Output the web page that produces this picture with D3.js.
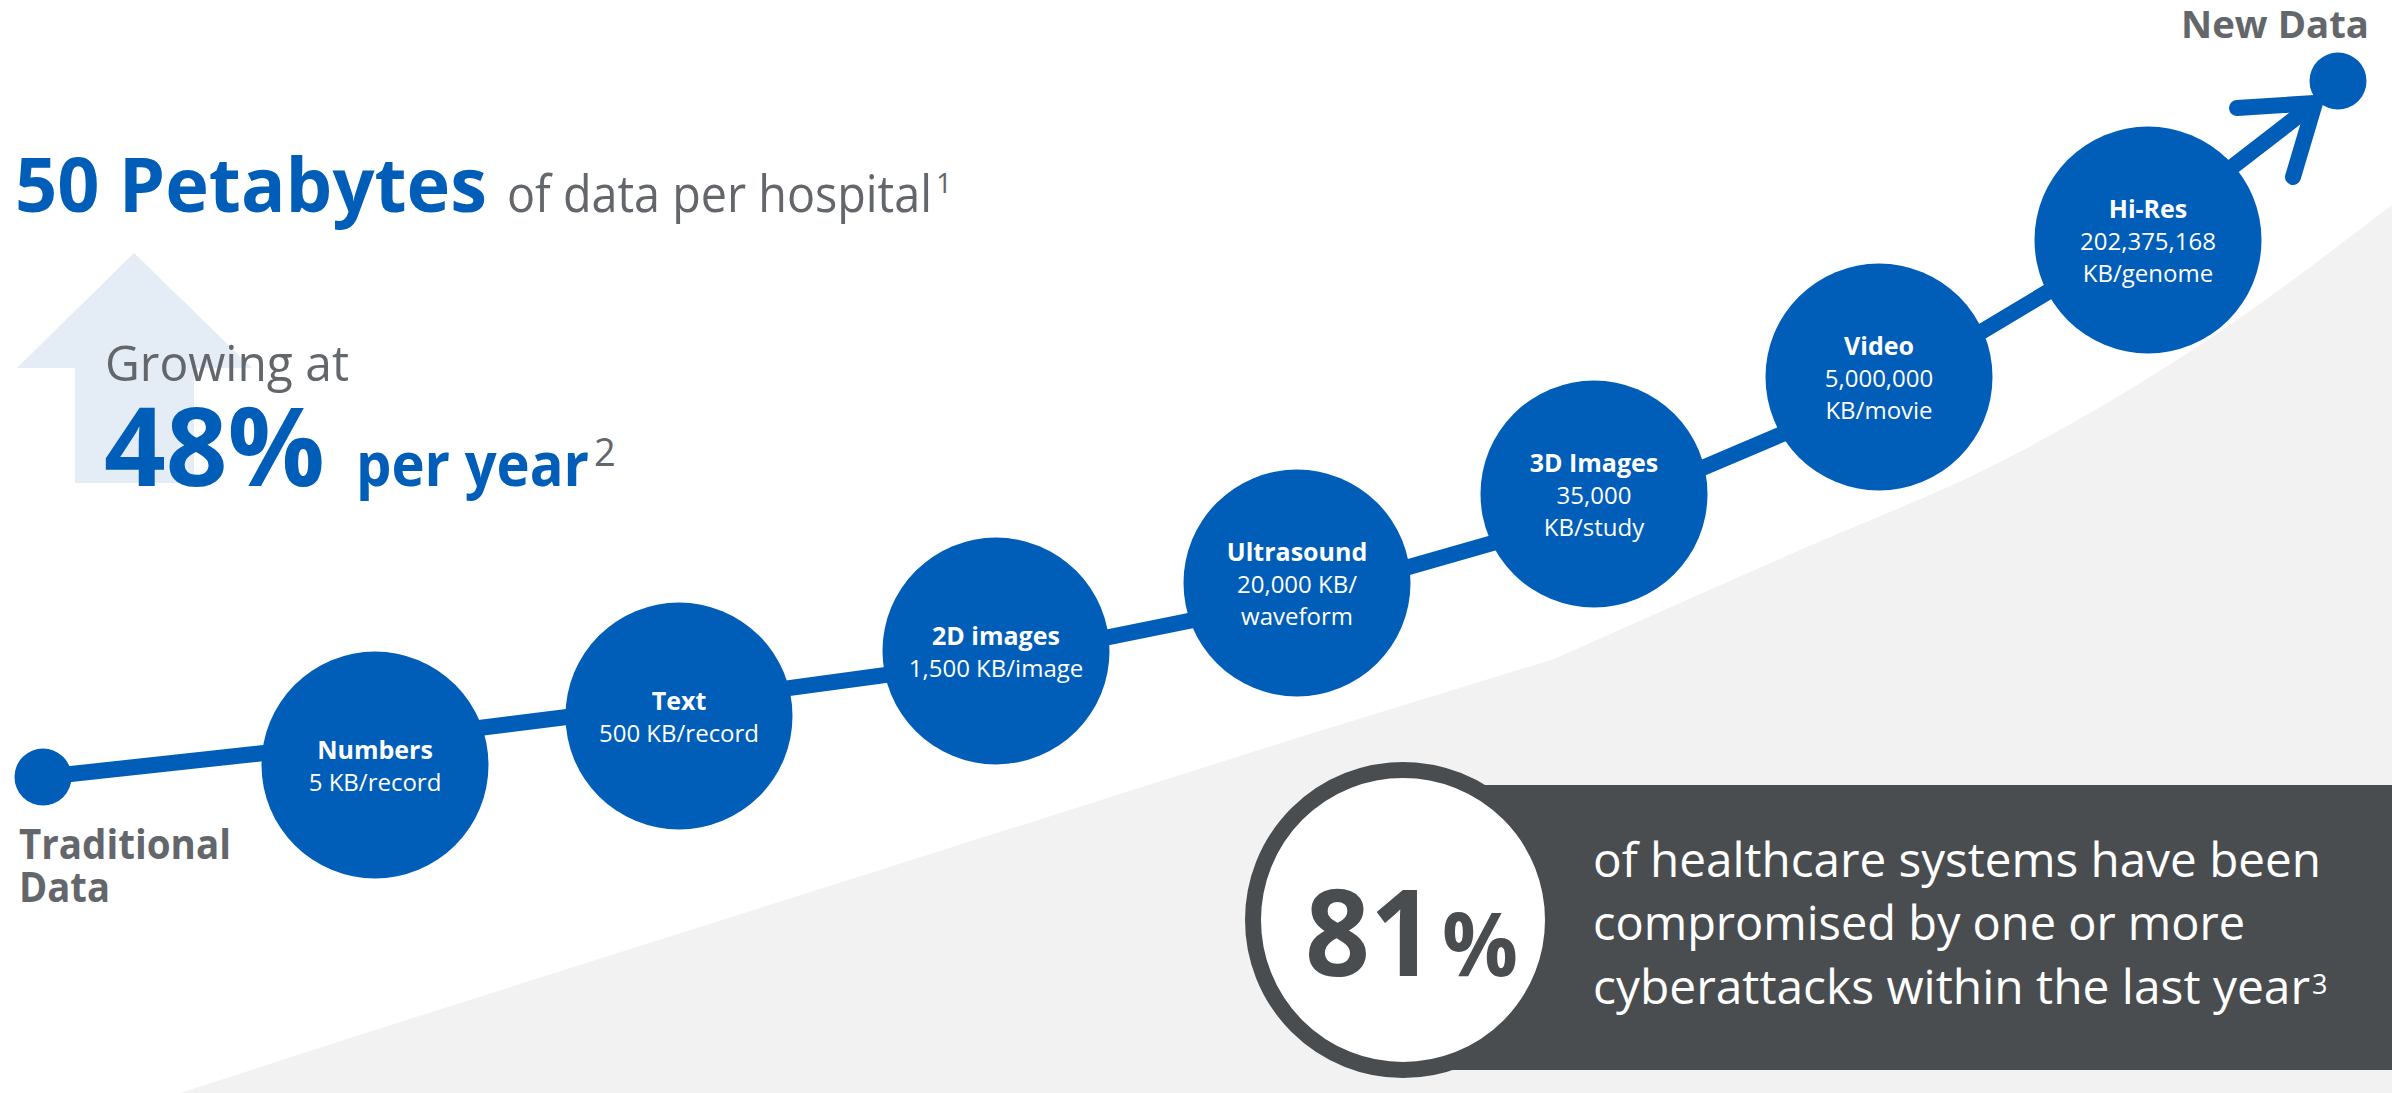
<!DOCTYPE html>
<html lang="en">
  <head>
    <meta charset="UTF-8"/>
    <title>Healthcare data growth</title>
    <script src="https://d3js.org/d3.v7.min.js"></script>
    <style>
      body { margin: 0; background: #fff; }
      text { font-family: 'Open Sans', sans-serif; }
      .blue { fill: #005eb8; }
      .grey { fill: #63666a; }
    </style>
  </head>
  <body>
    <script type="text/javascript">

      // data
      const stageNames = ["Numbers", "Text", "2D images", "Ultrasound", "3D Images", "Video", "Hi-Res"]
      const stageSizes = [
        ["5 KB/record"],
        ["500 KB/record"],
        ["1,500 KB/image"],
        ["20,000 KB/", "waveform"],
        ["35,000", "KB/study"],
        ["5,000,000", "KB/movie"],
        ["202,375,168", "KB/genome"]
      ]
      const headline = ["50 Petabytes", "of data per hospital", "1"]
      const growth = ["Growing at", "48%", "per year", "2"]
      const endLabels = [["Traditional", "Data"], ["New Data"]]
      const breachPct = ["81", "%"]
      const breachText = ["of healthcare systems have been", "compromised by one or more", "cyberattacks within the last year"]
      const breachNote = "3"

      // layout (reference units, 2392 x 1093)
      const nodeX = [375, 679, 996, 1297, 1594, 1879, 2148]
      const nodeY = [765, 716, 651, 583, 494, 377, 240]
      const spineY = [741, 703, 660, 599, 514, 393, 232]
      const startPt = [43, 777], tipPt = [2315, 103], endDot = [2338, 81]

      const outerWidth = 2392, outerHeight = 1093

      const svg = d3.select("body").append("svg")
          .attr("width", outerWidth)
          .attr("height", outerHeight)

      const x = d3.scaleLinear().domain([0, 2392]).range([0, outerWidth])
      const y = d3.scaleLinear().domain([0, 1093]).range([0, outerHeight])

      const blue = "#005eb8", grey = "#63666a", dark = "#4a4d50"

      const fit = (sel, w) => sel.attr("textLength", x(w) - x(0)).attr("lengthAdjust", "spacingAndGlyphs")

      // grey wedge in the background
      const wedgeTop = [[180, 1093], [400, 1022], [1300, 737], [1554, 659]]
      const wedgeCurve = [[1554, 659], [1800, 550], [2000, 462], [2200, 345], [2392, 205]]
      const straight = d3.line().x(d => x(d[0])).y(d => y(d[1]))
      const smooth = d3.line().x(d => x(d[0])).y(d => y(d[1])).curve(d3.curveMonotoneX)
      svg.append("path")
          .attr("d", straight(wedgeTop) + smooth(wedgeCurve).replace(/^M[^CL]*/, "L" + x(1554) + "," + y(659)) +
                "L" + x(2392) + "," + y(1093) + "Z")
          .attr("fill", "#f2f2f2")

      // light up-arrow behind the growth figure
      const upArrow = [[134, 253], [252, 368], [194, 368], [194, 483], [75, 483], [75, 368], [17, 368]]
      svg.append("path")
          .attr("d", straight(upArrow) + "Z")
          .attr("fill", "#e4ecf6")

      // headline
      fit(svg.append("text").attr("class", "blue").attr("x", x(15)).attr("y", y(211.5))
          .attr("font-size", 76).attr("font-weight", 700).text(headline[0]), 472)
      fit(svg.append("text").attr("class", "grey").attr("x", x(507)).attr("y", y(211.5))
          .attr("font-size", 52).text(headline[1]), 425)
      svg.append("text").attr("class", "grey").attr("x", x(936)).attr("y", y(193))
          .attr("font-size", 28).text(headline[2])

      // growth rate
      fit(svg.append("text").attr("class", "grey").attr("x", x(105)).attr("y", y(380.6))
          .attr("font-size", 49).text(growth[0]), 244)
      fit(svg.append("text").attr("class", "blue").attr("x", x(104)).attr("y", y(486))
          .attr("font-size", 110).attr("font-weight", 700).text(growth[1]), 221)
      fit(svg.append("text").attr("class", "blue").attr("x", x(356)).attr("y", y(486))
          .attr("font-size", 60).attr("font-weight", 700).text(growth[2]), 233)
      svg.append("text").attr("class", "grey").attr("x", x(594)).attr("y", y(466))
          .attr("font-size", 38).text(growth[3])

      // spine line and arrow
      const spine = [startPt].concat(nodeX.map((d, i) => [d, spineY[i]])).concat([tipPt])
      svg.append("path")
          .attr("d", straight(spine))
          .attr("fill", "none")
          .attr("stroke", blue)
          .attr("stroke-width", 16)

      svg.append("path")
          .attr("d", straight([[2237, 108], tipPt, [2293, 177]]))
          .attr("fill", "none")
          .attr("stroke", blue)
          .attr("stroke-width", 16)
          .attr("stroke-linecap", "round")
          .attr("stroke-linejoin", "miter")

      svg.selectAll(".end-dot")
        .data([startPt, endDot])
        .join("circle")
          .attr("class", "end-dot")
          .attr("cx", d => x(d[0]))
          .attr("cy", d => y(d[1]))
          .attr("r", 28.5)
          .attr("fill", blue)

      // end labels
      endLabels[0].forEach((t, i) => {
        fit(svg.append("text").attr("class", "grey").attr("x", x(19)).attr("y", y(859.3 + i * 42.4))
            .attr("font-size", 41).attr("font-weight", 700).text(t), i === 0 ? 212 : 91)
      })
      fit(svg.append("text").attr("class", "grey").attr("x", x(2181)).attr("y", y(37.5))
          .attr("font-size", 37).attr("font-weight", 700).text(endLabels[1][0]), 188)

      // stage circles
      const stages = stageNames.map((name, i) => ({name, sizes: stageSizes[i], cx: nodeX[i], cy: nodeY[i]}))

      const node = svg.selectAll(".stage")
        .data(stages)
        .join("g")
          .attr("class", "stage")
          .attr("transform", d => `translate(${x(d.cx)},${y(d.cy)})`)

      node.append("circle")
          .attr("r", 113.5)
          .attr("fill", blue)

      node.each(function(d) {
        const lines = [d.name].concat(d.sizes)
        const n = lines.length
        d3.select(this).selectAll("text")
          .data(lines)
          .join("text")
            .attr("text-anchor", "middle")
            .attr("y", (t, i) => 10 + (i - (n - 1) / 2) * 32)
            .attr("fill", "#fff")
            .attr("font-size", (t, i) => i === 0 ? 25 : 24)
            .attr("font-weight", (t, i) => i === 0 ? 700 : 400)
            .text(t => t)
      })

      // cyberattack panel
      svg.append("rect")
          .attr("x", x(1403))
          .attr("y", y(785))
          .attr("width", x(2392) - x(1403))
          .attr("height", y(1070) - y(785))
          .attr("fill", dark)

      svg.append("circle")
          .attr("cx", x(1403))
          .attr("cy", y(920))
          .attr("r", 150)
          .attr("fill", "#fff")
          .attr("stroke", dark)
          .attr("stroke-width", 16)

      fit(svg.append("text").attr("x", x(1305)).attr("y", y(976)).attr("fill", dark)
          .attr("font-size", 120).attr("font-weight", 700).text(breachPct[0]), 130)
      fit(svg.append("text").attr("x", x(1442)).attr("y", y(976)).attr("fill", dark)
          .attr("font-size", 88).attr("font-weight", 700).text(breachPct[1]), 76)

      const widths = [728, 652, 717]
      breachText.forEach((t, i) => {
        fit(svg.append("text").attr("x", x(1593)).attr("y", y(877 + i * 63.3)).attr("fill", "#fff")
            .attr("font-size", 47).text(t), widths[i])
      })
      svg.append("text").attr("x", x(2312)).attr("y", y(994)).attr("fill", "#fff")
          .attr("font-size", 27).text(breachNote)

    </script>
  </body>
</html>
